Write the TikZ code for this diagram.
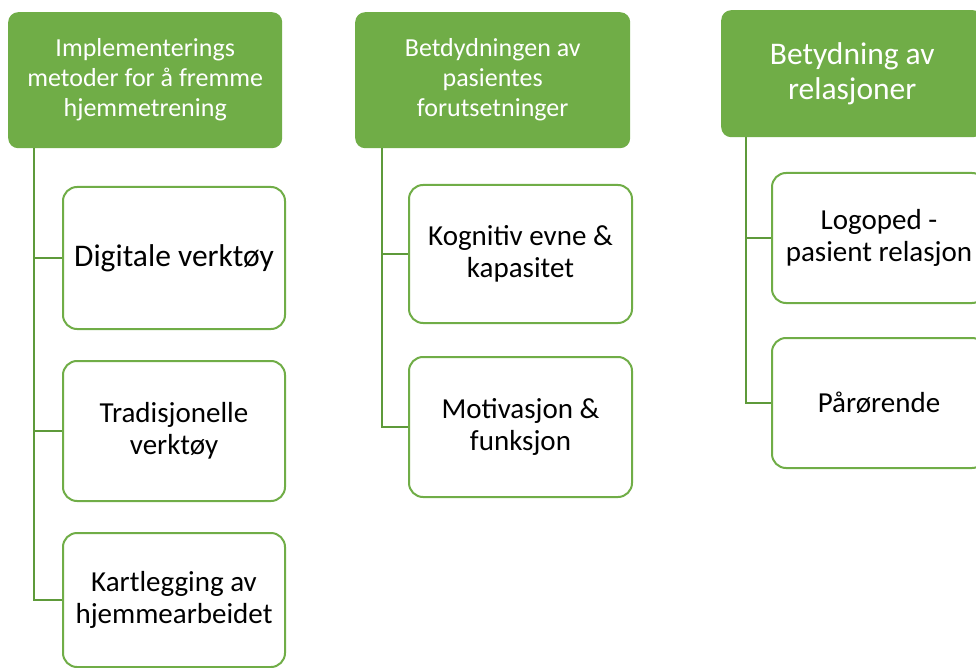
\documentclass[tikz,border=0pt]{standalone}
\usepackage{fontspec}
\setmainfont{Carlito}
\definecolor{hdrgreen}{HTML}{70AD47}
\definecolor{linegreen}{HTML}{5E9A3A}
\begin{document}
\begin{tikzpicture}[x=1pt,y=1pt,
  hdr/.style={fill=hdrgreen, draw=none, rounded corners=10pt, text=white, align=center, inner sep=0pt, anchor=north west},
  child/.style={fill=white, draw=hdrgreen, line width=2pt, rounded corners=14pt, text=black, align=center, inner sep=0pt, anchor=north west},
  hfont/.style={font=\fontsize{26}{30}\selectfont},
  bigfont/.style={font=\fontsize{31.5}{35}\selectfont},
  cfont/.style={font=\fontsize{29}{32}\selectfont},
  conn/.style={draw=linegreen, line width=2.5pt}]
\useasboundingbox (0,0) rectangle (976,-668);
% column 1
\node[hdr, hfont, minimum width=274pt, minimum height=136pt] (h1) at (8,-12)
  {Implementerings\\metoder for å fremme\\hjemmetrening};
\node[child, bigfont, minimum width=222pt, minimum height=142pt] (c11) at (62,-186)
  {Digitale verktøy};
\node[child, cfont, minimum width=222pt, minimum height=140pt] (c12) at (62,-360)
  {Tradisjonelle\\verktøy};
\node[child, cfont, minimum width=222pt, minimum height=134pt] (c13) at (62,-532)
  {Kartlegging av\\hjemmearbeidet};
% column 2
\node[hdr, hfont, minimum width=275pt, minimum height=136pt] (h2) at (355,-12)
  {Betdydningen av\\pasientes\\forutsetninger};
\node[child, cfont, minimum width=223pt, minimum height=138pt] (c21) at (408,-184)
  {Kognitiv evne \&\\kapasitet};
\node[child, cfont, minimum width=223pt, minimum height=140pt] (c22) at (408,-356)
  {Motivasjon \&\\funksjon};
% column 3
\node[hdr, bigfont, minimum width=262pt, minimum height=127pt] (h3) at (721,-10)
  {Betydning av\\relasjoner};
\node[child, cfont, minimum width=214pt, minimum height=130pt] (c31) at (771,-172)
  {Logoped -\\pasient relasjon};
\node[child, cfont, minimum width=214pt, minimum height=130pt] (c32) at (771,-337)
  {Pårørende};
% connectors
\draw[conn] ([xshift=26pt]h1.south west) |- (c11.west);
\draw[conn] ([xshift=26pt]h1.south west) |- (c12.west);
\draw[conn] ([xshift=26pt]h1.south west) |- (c13.west);
\draw[conn] ([xshift=27pt]h2.south west) |- (c21.west);
\draw[conn] ([xshift=27pt]h2.south west) |- (c22.west);
\draw[conn] ([xshift=25pt]h3.south west) |- (c31.west);
\draw[conn] ([xshift=25pt]h3.south west) |- (c32.west);
\end{tikzpicture}
\end{document}
